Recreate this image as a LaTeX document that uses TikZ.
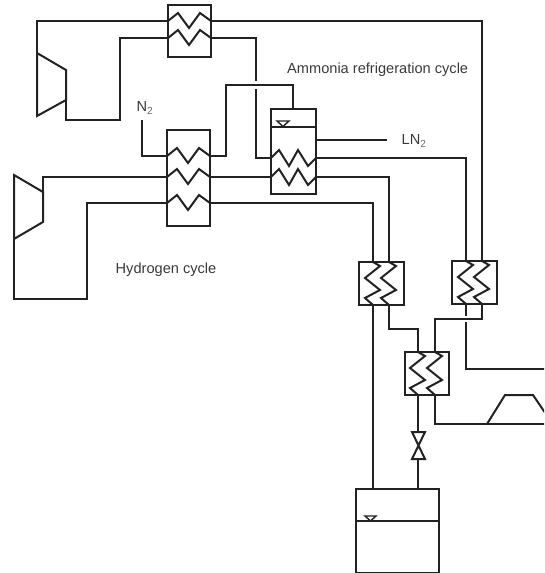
\documentclass[tikz,border=0pt]{standalone}
\usepackage{fontspec}
\setmainfont{Liberation Sans}
\newcommand{\subtwo}{\textsubscript{\textcolor{lbl!75}{2}}}
\definecolor{lbl}{HTML}{3A3A3A}
\definecolor{pipe}{HTML}{222222}
\newcommand{\hzB}[2]{\draw[pipeline] (#1) -- ++(10,-8) -- ++(11,15) -- ++(11,-15) -- (#2);}
\newcommand{\hzC}[2]{\draw[pipeline] (#1) -- ++(8,-8) -- ++(10,16) -- ++(9,-16) -- ++(10,16) -- (#2);}
\newcommand{\vzD}[2]{\draw[pipeline] (#1) -- ++(7,4) -- ++(-15,12) -- ++(15,12) -- ++(-15,8) -- (#2);}
\begin{document}
\begin{tikzpicture}[x=1pt,y=-1pt,
  pipeline/.style={draw=pipe,line width=2pt,line join=miter},
  box/.style={draw=pipe,line width=2pt,inner sep=0pt,outer sep=0pt,fill=none},
  lab/.style={text=lbl,font=\fontsize{14.6}{17}\selectfont,inner sep=0pt,anchor=west}]
\useasboundingbox (0,0) rectangle (544,573);
\clip (0,0) rectangle (544,573);

% equipment
\node[box,minimum width=43pt,minimum height=52pt] (hxA) at (189.5,31) {};
\node[box,minimum width=43pt,minimum height=96pt] (hxB) at (188.5,178) {};
\node[box,minimum width=45pt,minimum height=85pt] (hxC) at (293.5,151.5) {};
\node[box,minimum width=45pt,minimum height=43pt] (hxD) at (381.5,283.5) {};
\node[box,minimum width=45pt,minimum height=43pt] (hxE) at (474.5,282.5) {};
\node[box,minimum width=44pt,minimum height=43pt] (hxF) at (427,373.5) {};
\node[box,minimum width=83pt,minimum height=84pt] (tank) at (397.5,531) {};

% labels
\node[lab] (tAm) at (287,69.5) {Ammonia refrigeration cycle};
\node[lab] (tHy) at (115.5,269.5) {Hydrogen cycle};
\node[lab] (tN) at (136.5,108) {N\subtwo};
\node[lab] (tL) at (401.5,141) {LN\subtwo};

% ports
\coordinate (a1l) at (168,21); \coordinate (a1r) at (211,21);
\coordinate (a2l) at (168,38); \coordinate (a2r) at (211,38);
\coordinate (b1l) at (167,156); \coordinate (b1r) at (210,156);
\coordinate (b2l) at (167,177); \coordinate (b2r) at (210,177);
\coordinate (b3l) at (167,203); \coordinate (b3r) at (210,203);
\coordinate (c1l) at (271,158); \coordinate (c1r) at (316,158);
\coordinate (c2l) at (271,177); \coordinate (c2r) at (316,177);
\coordinate (d1t) at (373,262); \coordinate (d1b) at (373,305);
\coordinate (d2t) at (389,262); \coordinate (d2b) at (389,305);
\coordinate (e1t) at (466,261); \coordinate (e1b) at (466,304);
\coordinate (e2t) at (482,261); \coordinate (e2b) at (482,304);
\coordinate (f1t) at (418,352); \coordinate (f1b) at (418,395);
\coordinate (f2t) at (435,352); \coordinate (f2b) at (435,395);

% zigzag coils
\hzB{a1l}{a1r} \hzB{a2l}{a2r}
\hzB{b1l}{b1r} \hzB{b2l}{b2r} \hzB{b3l}{b3r}
\hzC{c1l}{c1r} \hzC{c2l}{c2r}
\vzD{d1t}{d1b} \vzD{d2t}{d2b}
\vzD{e1t}{e1b} \vzD{e2t}{e2b}
\vzD{f1t}{f1b} \vzD{f2t}{f2b}

% upper turbine
\coordinate (t1a) at (37,53); \coordinate (t1b) at (66,70);
\coordinate (t1c) at (66,100); \coordinate (t1d) at (37,116);
\draw[pipeline] (t1a) -- (t1b) -- (t1c) -- (t1d) -- cycle;
\draw[pipeline] (t1a) |- (a1l);
\draw[pipeline] (t1c) -- (66,120) -- (120,120) -- (120,38) -- (a2l);
% ammonia loop
\coordinate (g1) at (256,81); \coordinate (g2) at (256,89);
\draw[pipeline] (a2r) -| (g1);
\draw[pipeline] (g2) |- (c1l);
\draw[pipeline] (a1r) -- (482,21) -- (e2t);

% lower turbine
\coordinate (t2a) at (14,175); \coordinate (t2b) at (43,192);
\coordinate (t2c) at (43,222); \coordinate (t2d) at (14,239);
\draw[pipeline] (t2a) -- (t2b) -- (t2c) -- (t2d) -- cycle;
\draw[pipeline] (t2b) -- (43,177) -- (b2l);
\draw[pipeline] (t2d) -- (14,299) -- (87,299) -- (87,203) -- (b3l);

% nitrogen
\coordinate (n2in) at (142,120);
\draw[pipeline] (n2in) |- (b1l);
\coordinate (cTop) at (293,109);
\draw[pipeline] (b1r) -- (226,156) -- (226,85) -- (293,85) -- (cTop);
\coordinate (ln) at (387,140);
\draw[pipeline] (316,140) -- (ln);

% hydrogen
\draw[pipeline] (b2r) -- (c2l);
\draw[pipeline] (b3r) -| (d1t);
\draw[pipeline] (c2r) -| (d2t);
\draw[pipeline] (c1r) -| (e1t);

% level lines
\draw[pipeline] (271,127) -- (316,127);
\draw[draw=pipe,line width=1.4pt] (277,121) -- (289,121) -- (283,126.5) -- cycle;
\draw[pipeline] (356,521) -- (439,521);
\draw[draw=pipe,line width=1.4pt] (365,516) -- (376,516) -- (370.5,521) -- cycle;

% lower connections
\coordinate (tankA) at (373,489); \coordinate (tankB) at (418,489);
\coordinate (vT) at (418,432); \coordinate (vB) at (418,459);
\draw[pipeline] (d1b) -- (tankA);
\draw[pipeline] (d2b) -- (389,329) -- (418,329) -- (f1t);
\draw[pipeline] (f2t) -- (435,319) -- (482,319) -- (e2b);
\draw[pipeline] (e1b) -- (466,316);
\draw[pipeline] (466,322) -- (466,369) -- (545,369);
\draw[pipeline] (f1b) -- (vT);
\draw[pipeline] (vB) -- (tankB);
\draw[pipeline] (412,432) -- (425,432) -- (412,459) -- (425,459) -- cycle;

% right turbine
\coordinate (t3a) at (487,424);
\draw[pipeline] (f2b) -- (435,424) -- (t3a);
\draw[pipeline] (t3a) -- (550,424);
\draw[pipeline] (t3a) -- (505,395) -- (533,395) -- (550,420);
\end{tikzpicture}
\end{document}
